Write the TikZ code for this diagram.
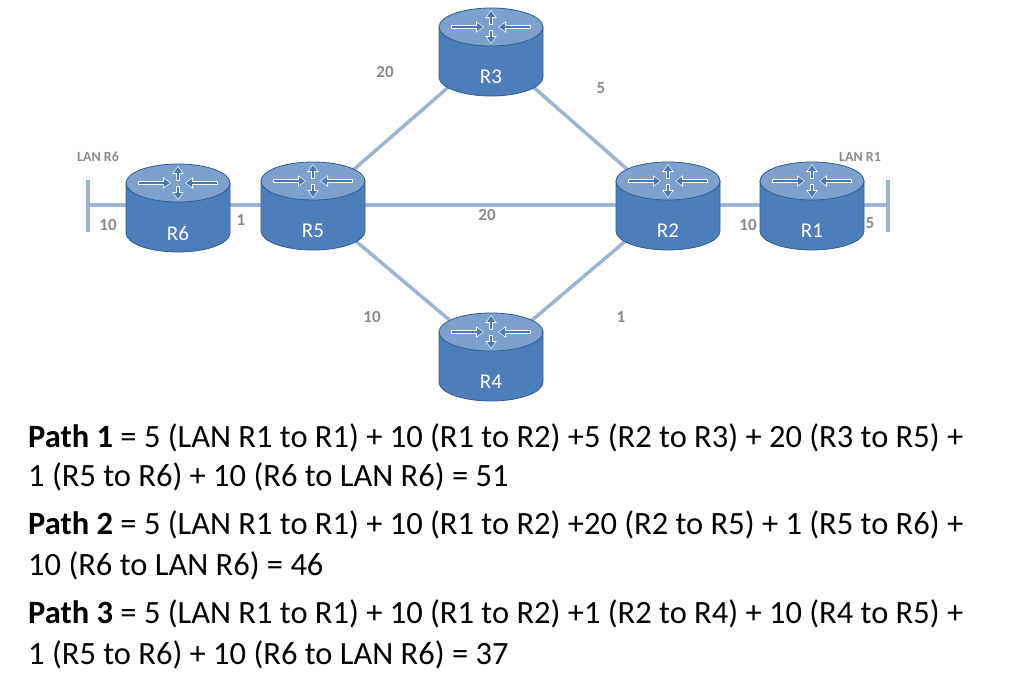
\documentclass[tikz,border=0pt]{standalone}
\usepackage{fontspec}
\setmainfont{Carlito}
\usetikzlibrary{arrows.meta}
\definecolor{link}{HTML}{9DB4D2}
\definecolor{rtop}{HTML}{7DA0CF}
\definecolor{rbody}{HTML}{4C7EBB}
\definecolor{rline}{HTML}{2F5D8F}
\definecolor{rarrow}{HTML}{4A78B2}
\definecolor{lbl}{HTML}{8A8A8A}
\newcommand{\myrouter}[3]{%
  \begin{scope}[shift={(#1,#2)}]
    \fill[rbody,draw=rline,line width=0.8pt] (-52,0) -- (-52,50) arc[start angle=180,end angle=0,x radius=52,y radius=19] -- (52,0) -- cycle;
    \fill[rtop,draw=rline,line width=0.8pt] (0,0) ellipse[x radius=52,y radius=19];
    \foreach \a/\b in {{(-40,0)/(-7,0)},{(40,0)/(7,0)},{(0,-2)/(0,-17)},{(0,3)/(0,17)}}
      \draw[white,line width=4.6pt,-{Triangle[length=8pt,width=11pt]}] \a -- \b;
    \foreach \a/\b in {{(-39,0)/(-8,0)},{(39,0)/(8,0)},{(0,-3)/(0,-16)},{(0,4)/(0,16)}}
      \draw[rarrow,line width=2.8pt,-{Triangle[length=6pt,width=8pt]}] \a -- \b;
    \node[rname] (#3) at (0,50) {#3};
  \end{scope}}
\tikzset{
  conn/.style={link,line width=3.5pt},
  wt/.style={text=lbl,font=\bfseries\fontsize{17}{19}\selectfont},
  rname/.style={text=white,font=\fontsize{21}{23}\selectfont},
  ptext/.style={anchor=west,font=\fontsize{32.5}{36}\selectfont,inner sep=0},
}
\begin{document}
\begin{tikzpicture}[x=1pt,y=-1pt]
\useasboundingbox (0,0) rectangle (1024,683);
\coordinate (c6) at (178,205);
\coordinate (c5) at (313,205);
\coordinate (c3) at (491,50);
\coordinate (c2) at (668,205);
\coordinate (c1) at (812,205);
\coordinate (c4) at (491,355);
\coordinate (lan6a) at (88,180); \coordinate (lan6b) at (88,232); \coordinate (lan6) at (88,205);
\coordinate (lan1a) at (888,180); \coordinate (lan1b) at (888,232); \coordinate (lan1) at (888,205);
\draw[conn] (lan6a) -- (lan6b);
\draw[conn] (lan1a) -- (lan1b);
\draw[conn] (lan6) -- (c6);
\draw[conn] (c1) -- (lan1);
\draw[conn] (c6) -- (c5);
\draw[conn] (c5) -- (c2);
\draw[conn] (c2) -- (c1);
\draw[conn] (c5) -- (c3);
\draw[conn] (c3) -- (c2);
\draw[conn] (c5) -- (c4);
\draw[conn] (c4) -- (c2);
\myrouter{178}{183}{R6}
\myrouter{313}{181}{R5}
\myrouter{491}{27}{R3}
\myrouter{668}{181}{R2}
\myrouter{812}{181}{R1}
\myrouter{491}{332}{R4}
\node[wt] (w53) at (385,72) {20};
\node[wt] (w32) at (601,88) {5};
\node[wt] (w52) at (487,215) {20};
\node[wt] (w54) at (372,317) {10};
\node[wt] (w42) at (621,317) {1};
\node[wt] (w65) at (241,220) {1};
\node[wt] (w6l) at (108,225) {10};
\node[wt] (w21) at (748,225) {10};
\node[wt] (w1l) at (870,223) {5};
\node[wt,font=\bfseries\fontsize{14}{16}\selectfont] (l6) at (98,157) {LAN R6};
\node[wt,font=\bfseries\fontsize{14}{16}\selectfont] (l1) at (860,157) {LAN R1};
\node[ptext] (p1a) at (28,438) {\textbf{Path 1} = 5 (LAN R1 to R1) + 10 (R1 to R2) +5 (R2 to R3) + 20 (R3 to R5) +};
\node[ptext] (p1b) at (28,477) {1 (R5 to R6) + 10 (R6 to LAN R6) = 51};
\node[ptext] (p2a) at (28,525) {\textbf{Path 2} = 5 (LAN R1 to R1) + 10 (R1 to R2) +20 (R2 to R5) + 1 (R5 to R6) +};
\node[ptext] (p2b) at (28,566) {10 (R6 to LAN R6) = 46};
\node[ptext] (p3a) at (28,614) {\textbf{Path 3} = 5 (LAN R1 to R1) + 10 (R1 to R2) +1 (R2 to R4) + 10 (R4 to R5) +};
\node[ptext] (p3b) at (28,655) {1 (R5 to R6) + 10 (R6 to LAN R6) = 37};
\end{tikzpicture}
\end{document}
